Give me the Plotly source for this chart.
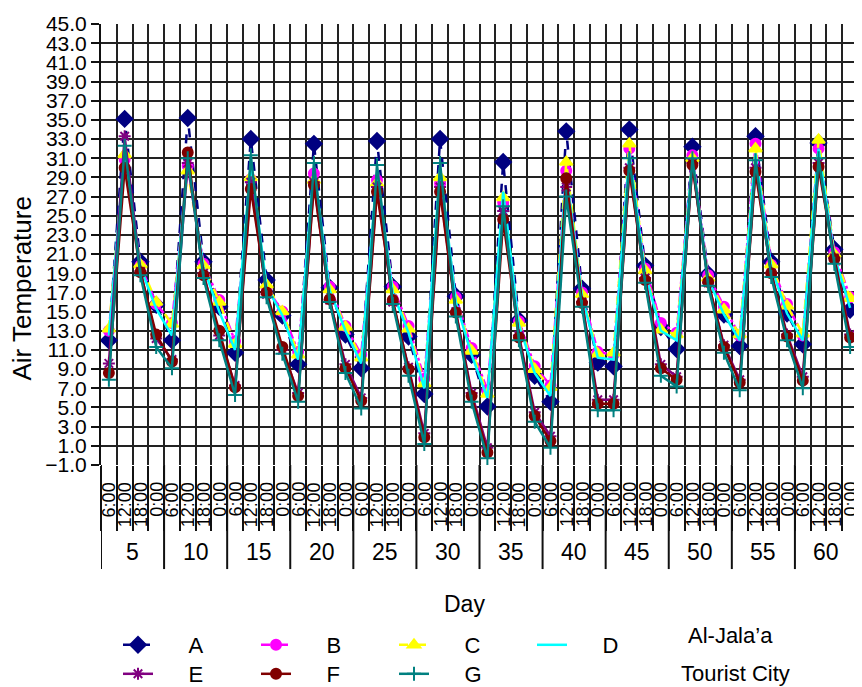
import plotly.graph_objects as go

days = [5, 10, 15, 20, 25, 30, 35, 40, 45, 50, 55, 60]
times = ["6:00", "12:00", "18:00", "0:00"]

A = [12.0, 35.1, 20.2, 15.7, 12.0, 35.2, 20.2, 15.5, 10.7, 33.0, 18.3, 14.6,
     9.5, 32.5, 17.5, 12.6, 9.1, 32.8, 17.6, 12.4, 6.4, 33.0, 16.6, 10.5,
     5.1, 30.6, 14.1, 8.3, 5.6, 33.8, 17.4, 9.7, 9.3, 34.0, 19.8, 13.4,
     11.1, 32.2, 18.9, 14.7, 11.4, 33.3, 20.2, 14.8, 11.6, 32.6, 21.5, 15.2]
B = [13.0, 30.9, 19.8, 15.8, 13.8, 30.2, 20.0, 16.2, 11.9, 28.8, 17.5, 15.0,
     10.8, 29.4, 17.6, 13.5, 10.5, 28.7, 17.6, 13.5, 8.0, 28.4, 16.5, 11.2,
     6.8, 26.4, 14.0, 9.3, 7.3, 29.7, 17.0, 10.8, 10.5, 32.0, 19.5, 13.8,
     12.8, 31.3, 18.8, 15.5, 12.5, 32.5, 19.9, 15.8, 12.5, 32.0, 21.2, 16.5]
C = [13.2, 31.4, 19.9, 16.0, 13.7, 29.7, 19.8, 16.0, 11.6, 29.0, 17.8, 15.0,
     10.5, 28.7, 17.3, 13.4, 10.2, 28.4, 17.3, 13.2, 7.5, 29.0, 16.2, 10.9,
     6.4, 26.9, 13.8, 9.0, 7.1, 30.6, 16.8, 10.6, 10.7, 32.5, 19.3, 13.1,
     12.6, 31.0, 18.5, 15.2, 12.6, 32.0, 19.9, 15.6, 12.7, 32.9, 21.0, 16.4]
D = [12.5, 32.0, 19.6, 15.3, 12.5, 31.0, 19.6, 15.0, 11.0, 30.5, 17.6, 14.6,
     10.0, 30.0, 17.2, 13.0, 9.6, 29.5, 17.0, 12.8, 7.0, 30.0, 16.0, 10.5,
     6.0, 27.5, 13.6, 8.6, 6.2, 29.5, 16.6, 10.2, 10.0, 31.5, 19.0, 13.0,
     12.0, 31.0, 18.4, 14.7, 12.0, 31.5, 19.6, 14.8, 12.0, 32.0, 20.8, 15.4]
E = [9.6, 33.3, 19.2, 12.2, 10.0, 30.5, 19.0, 12.5, 7.3, 28.5, 16.8, 11.0,
     6.5, 28.5, 16.2, 9.5, 6.0, 28.0, 16.0, 9.2, 2.3, 28.0, 15.0, 6.5,
     0.8, 25.5, 12.5, 4.5, 2.0, 28.0, 16.0, 5.8, 5.8, 30.0, 18.5, 9.5,
     8.2, 30.5, 18.0, 11.5, 7.9, 30.0, 19.0, 12.6, 8.2, 30.5, 20.6, 12.6]
F = [8.6, 30.0, 19.1, 12.6, 9.8, 31.6, 18.8, 13.0, 7.1, 27.8, 17.0, 11.3,
     6.2, 28.2, 16.3, 9.1, 5.7, 27.5, 16.2, 9.0, 1.9, 27.5, 14.9, 6.2,
     0.3, 24.6, 12.3, 4.1, 1.5, 28.9, 15.9, 5.4, 5.4, 29.7, 18.3, 9.1,
     7.9, 30.3, 18.1, 11.3, 7.6, 29.6, 19.0, 12.4, 7.8, 30.1, 20.5, 12.3]
G = [7.9, 32.3, 18.8, 11.3, 9.1, 31.0, 18.5, 12.0, 6.3, 31.3, 16.5, 10.6,
     5.6, 30.5, 16.0, 8.6, 4.9, 30.3, 15.8, 8.3, 1.2, 30.5, 14.5, 5.6,
     -0.3, 26.0, 12.0, 3.5, 0.8, 27.0, 15.5, 4.7, 4.7, 31.0, 18.0, 8.3,
     7.2, 31.0, 17.7, 10.7, 6.8, 30.8, 18.6, 12.0, 7.0, 31.0, 20.0, 11.3]

FONT = "Arial, Liberation Sans, sans-serif"
OFF = 8  # default page margin of the html body
W, H = 862 - OFF, 687 - OFF
ML, MR, MT = 101 - OFF, 4, 20 - OFF
MB = H - (465 - OFF)
PW = W - ML - MR
PH = H - MT - MB


def px_x(page_x):
    return (page_x - OFF - ML) / PW


def px_y(page_y):
    return (H - MB - (page_y - OFF)) / PH


n = len(days) * len(times)
xs = list(range(n))
hover_lab = [f"Day {d} {t}" for d in days for t in times]
PAD = "\u00a0" * 5

series = [
    ("A", A, "#000080", "dash", "diamond", 12, "legend"),
    ("B", B, "#FF00FF", "dashdot", "circle", 10, "legend"),
    ("C", C, "#FFFF00", "dash", "triangle-up", 11, "legend"),
    ("D", D, "#00FFFF", "solid", None, 0, "legend"),
    ("E", E, "#800080", "solid", "asterisk-open", 10, "legend2"),
    ("F", F, "#800000", "solid", "circle", 10, "legend2"),
    ("G", G, "#008080", "solid", "cross-thin-open", 10, "legend2"),
]

fig = go.Figure()
for name, vals, col, dash, sym, sz, lg in series:
    if sym is None:
        fig.add_trace(go.Scatter(x=xs, y=vals, name=PAD + name, mode="lines",
                                 line=dict(color=col, width=2.5, dash=dash),
                                 text=hover_lab, legend=lg))
    else:
        fig.add_trace(go.Scatter(x=xs, y=vals, name=PAD + name, mode="lines+markers",
                                 line=dict(color=col, width=2.5, dash=dash),
                                 marker=dict(symbol=sym, size=sz, color=col,
                                             line=dict(color=col, width=2)),
                                 text=hover_lab, legend=lg))

boundaries = [i - 0.5 for i in range(n + 1)]
fig.update_xaxes(range=[-0.5, n - 0.5], tickvals=boundaries, showticklabels=False,
                 showgrid=True, gridcolor="#222", gridwidth=1.5,
                 ticks="outside", ticklen=65, tickcolor="#111", tickwidth=2,
                 zeroline=False, showline=False)
fig.update_yaxes(range=[-1, 45], tick0=-1, dtick=2, tickformat=".1f",
                 showgrid=True, gridcolor="#222", gridwidth=1.5,
                 ticks="outside", ticklen=8, tickcolor="#111", tickwidth=2,
                 showline=True, linecolor="#111", linewidth=2,
                 ticklabeloverflow="allow",
                 zeroline=False, tickfont=dict(size=21, color="black", family=FONT))

anns = []
for g, d in enumerate(days):
    for k, t in enumerate(times):
        anns.append(dict(x=g * len(times) + k, xref="x", y=0, yref="paper",
                         yanchor="top", yshift=-15, text=t, textangle=-90,
                         showarrow=False, font=dict(size=18, color="black", family=FONT)))
    anns.append(dict(x=g * len(times) + (len(times) - 1) / 2, xref="x", y=px_y(553), yref="paper",
                     yanchor="middle", text=str(d), showarrow=False,
                     font=dict(size=23, color="black", family=FONT)))

anns.append(dict(x=px_x(22), xref="paper", xanchor="center", y=px_y(287), yref="paper",
                 yanchor="middle", text="Air Temperature", textangle=-90, showarrow=False,
                 font=dict(size=26, color="black", family=FONT)))
anns.append(dict(x=px_x(464), xref="paper", xanchor="center", y=px_y(605), yref="paper",
                 yanchor="middle", text="Day", showarrow=False,
                 font=dict(size=23, color="black", family=FONT)))
anns.append(dict(x=px_x(730), xref="paper", xanchor="center", y=px_y(637), yref="paper",
                 yanchor="middle", text="Al-Jala’a", showarrow=False,
                 font=dict(size=22, color="black", family=FONT)))
anns.append(dict(x=px_x(735), xref="paper", xanchor="center", y=px_y(675), yref="paper",
                 yanchor="middle", text="Tourist City", showarrow=False,
                 font=dict(size=22, color="black", family=FONT)))

shapes = []
for g in range(len(days) + 1):
    xb = g * len(times) - 0.5
    shapes.append(dict(type="line", xref="x", yref="paper", x0=xb, x1=xb,
                       y0=0, y1=-105 / PH, line=dict(color="#111", width=2)))

leg_common = dict(orientation="h", xref="container", yref="container",
                  xanchor="left", yanchor="middle", entrywidth=93,
                  bgcolor="rgba(0,0,0,0)", borderwidth=0,
                  font=dict(size=22, color="black", family=FONT))

fig.update_layout(
    width=W, height=H, margin=dict(l=ML, r=MR, t=MT, b=MB),
    paper_bgcolor="white", plot_bgcolor="white",
    font=dict(family=FONT, color="black"),
    annotations=anns, shapes=shapes,
    legend=dict(x=(118 - OFF) / W, y=1 - (645 - OFF) / H, **leg_common),
    legend2=dict(x=(118 - OFF) / W, y=1 - (674 - OFF) / H, **leg_common),
)

fig.write_html("out.html")
